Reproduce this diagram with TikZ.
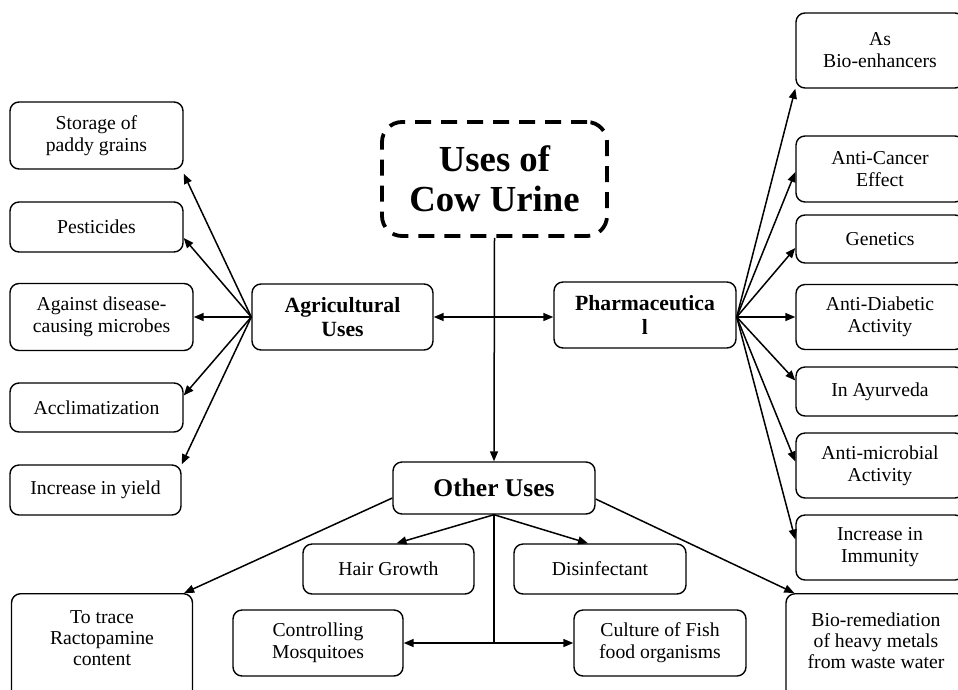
\documentclass[tikz,border=0pt]{standalone}
\usepackage{fontspec}
\setmainfont{Liberation Serif}
\usetikzlibrary{arrows.meta}
\tikzset{
  box/.style={draw, line width=1.4pt, rounded corners=9pt, align=center, inner sep=2pt,
    font=\fontsize{19.7}{22}\selectfont},
  headbox/.style={box, font=\fontsize{21.7}{23.7}\selectfont\bfseries},
  txt/.style={align=center, inner sep=0pt, font=\fontsize{19.7}{21}\selectfont},
  conn/.style={line width=1.5pt, -{Triangle[length=10pt,width=8pt]}},
  biconn/.style={line width=1.5pt, {Triangle[length=10pt,width=8pt]}-{Triangle[length=10pt,width=8pt]}},
}
\begin{document}
\begin{tikzpicture}[x=1pt, y=-1pt]
  \useasboundingbox (0,0) rectangle (958,689);
  % centre
  \node[draw, line width=3.8pt, dash pattern=on 16pt off 10pt, rounded corners=20pt, align=center,
    minimum width=225pt, minimum height=114pt, font=\fontsize{36.7}{40}\selectfont\bfseries]
    (title) at (494.5,179) {Uses of\\Cow Urine};
  \node[headbox, minimum width=181pt, minimum height=66pt] (agri) at (342.5,317) {Agricultural\\Uses};
  \node[headbox, minimum width=182pt, minimum height=66pt] (pharma) at (645,315) {Pharmaceutica\\l};
  \node[box, minimum width=202pt, minimum height=52pt, font=\fontsize{25.5}{28}\selectfont\bfseries]
    (other) at (494,488) {Other Uses};

  % agricultural uses
  \node[box, minimum width=173pt, minimum height=67pt] (storage) at (96.5,135.5) {Storage of\\paddy grains};
  \node[box, minimum width=173pt, minimum height=50pt] (pesti) at (96.5,227) {Pesticides};
  \node[box, minimum width=183pt, minimum height=67pt] (microbes) at (101.5,317) {Against disease-\\causing microbes};
  \node[box, minimum width=173pt, minimum height=49pt] (acclim) at (96.5,407.5) {Acclimatization};
  \node[box, minimum width=171pt, minimum height=50pt] (yield) at (95.5,490) {Increase in yield};

  % pharmaceutical uses
  \node[box, minimum width=168pt, minimum height=75pt] (enhance) at (880,50.5) {As\\Bio-enhancers};
  \node[box, minimum width=168pt, minimum height=66pt] (cancer) at (880,169) {Anti-Cancer\\Effect};
  \node[box, minimum width=168pt, minimum height=48pt] (genetics) at (880,239) {Genetics};
  \node[box, minimum width=168pt, minimum height=65pt] (diabetic) at (880,317) {Anti-Diabetic\\Activity};
  \node[box, minimum width=168pt, minimum height=49pt] (ayurveda) at (880,391.5) {In Ayurveda};
  \node[box, minimum width=168pt, minimum height=65pt] (antimicro) at (880,465.5) {Anti-microbial\\Activity};
  \node[box, minimum width=168pt, minimum height=65pt] (immunity) at (880,547.5) {Increase in\\Immunity};

  % other uses
  \node[box, minimum width=171pt, minimum height=50pt] (hair) at (388.5,569) {Hair Growth};
  \node[box, minimum width=172pt, minimum height=50pt] (disinf) at (600,569) {Disinfectant};
  \node[box, minimum width=170pt, minimum height=66pt] (mosq) at (318,643) {Controlling\\Mosquitoes};
  \node[box, minimum width=172pt, minimum height=66pt] (fish) at (660,643) {Culture of Fish\\food organisms};
  \node[box, minimum width=181pt, minimum height=110pt, anchor=north] (trace) at (102,593) {};
  \node[txt] (tracetext) at (102,638) {To trace\\Ractopamine\\content};
  \node[box, minimum width=180pt, minimum height=110pt, anchor=north] (remed) at (876,593) {};
  \node[txt] (remedtext) at (876,641) {Bio-remediation\\of heavy metals\\from waste water};

  % connectors
  \draw[conn] (title.south) -- (other.north);
  \draw[biconn] (agri.east) -- (agri.east -| pharma.west);

  \draw[conn] (agri.west) -- ([yshift=-4pt]storage.south east);
  \draw[conn] (agri.west) -- ([yshift=-11pt]pesti.east);
  \draw[conn] (agri.west) -- (microbes.east);
  \draw[conn] (agri.west) -- ([yshift=12pt]acclim.east);
  \draw[conn] (agri.west) -- (yield.north east);

  \coordinate (phub) at ([yshift=-2pt]pharma.east);
  \draw[conn] (phub) -- (enhance.south west);
  \draw[conn] (phub) -- ([yshift=-3pt]cancer.west);
  \draw[conn] (phub) -- ([yshift=-9pt]genetics.west);
  \draw[conn] (phub) -- (diabetic.west);
  \draw[conn] (phub) -- ([yshift=11pt]ayurveda.west);
  \draw[conn] (phub) -- ([yshift=4pt]antimicro.west);
  \draw[conn] (phub) -- ([yshift=8pt]immunity.west);

  \draw[conn] ([yshift=-10pt]other.west) -- ([xshift=-9pt]trace.north east);
  \draw[conn] ([yshift=-11pt]other.east) -- ([xshift=9pt]remed.north west);
  \draw[conn] (other.south) -- ([xshift=8pt]hair.north);
  \draw[conn] (other.south) -- ([xshift=-12pt]disinf.north);
  \coordinate (ojoin) at (other.south |- mosq.east);
  \draw[line width=1.2pt] (other.south) -- (ojoin);
  \draw[conn] (ojoin) -- (mosq.east);
  \draw[conn] (ojoin) -- (fish.west);
\end{tikzpicture}
\end{document}
